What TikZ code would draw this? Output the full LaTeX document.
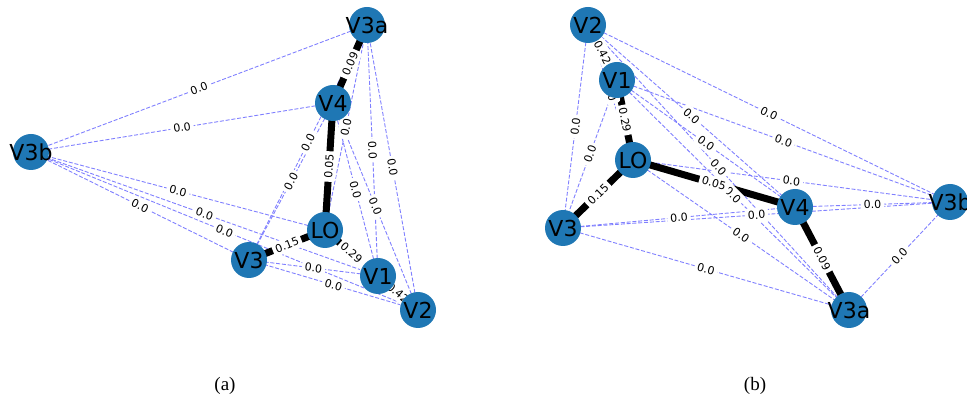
\documentclass[tikz,border=0pt]{standalone}
\usepackage{fontspec}
\setmainfont{Liberation Serif}
\newfontfamily\graphfont{DejaVu Sans}
\pgfdeclarelayer{edgelayer}
\pgfdeclarelayer{labellayer}
\pgfsetlayers{edgelayer,labellayer,main}
\definecolor{nodeblue}{HTML}{1F77B4}
\definecolor{weakedge}{HTML}{8080FF}
\tikzset{
  vert/.style={circle, fill=nodeblue, minimum size=36pt, inner sep=0pt,
    label={[font=\graphfont\fontsize{22}{22}\selectfont, text=black, inner sep=0pt]center:#1}},
  weak/.style={draw=weakedge, line width=0.9pt, dash pattern=on 4pt off 1.8pt},
  strong/.style={draw=black, line width=7pt},
  elab/.style={fill=white, rounded corners=3pt, inner xsep=3pt, inner ysep=3pt,
    font=\graphfont\fontsize{11}{11}\selectfont, sloped},
  caption/.style={font=\fontsize{19}{19}\selectfont}
}
% edge between two vertices, with its weight written at the midpoint
\newcommand\graphedge[4]{%
  \begin{pgfonlayer}{edgelayer}
    \draw[#1] (#2.center) -- (#3.center);
  \end{pgfonlayer}
  \begin{pgfonlayer}{labellayer}
    \path (#2.center) -- (#3.center) node[midway, elab] {#4};
  \end{pgfonlayer}}
\begin{document}
\begin{tikzpicture}[x=1pt, y=-1pt]
\useasboundingbox (0,0) rectangle (967,403);

% layout (a)
\node[vert=V3a] (aV3a) at (367,25) {};
\node[vert=V4]  (aV4)  at (333,103) {};
\node[vert=V3b] (aV3b) at (31,152) {};
\node[vert=LO]  (aLO)  at (325,230) {};
\node[vert=V3]  (aV3)  at (249,260) {};
\node[vert=V1]  (aV1)  at (378,276) {};
\node[vert=V2]  (aV2)  at (418,310) {};

% layout (b)
\node[vert=V2]  (bV2)  at (588,25) {};
\node[vert=V1]  (bV1)  at (617,80) {};
\node[vert=LO]  (bLO)  at (633,160) {};
\node[vert=V3]  (bV3)  at (563,228) {};
\node[vert=V4]  (bV4)  at (795,207) {};
\node[vert=V3b] (bV3b) at (950,202) {};
\node[vert=V3a] (bV3a) at (849,310) {};

\foreach \p in {a,b} {
  \foreach \u/\v in {LO/V2, LO/V3a, LO/V3b, V1/V3, V1/V3a, V1/V3b, V1/V4,
                     V2/V3, V2/V3a, V2/V3b, V2/V4, V3/V3a, V3/V3b, V3/V4,
                     V3a/V3b, V3b/V4} {
    \graphedge{weak}{\p\u}{\p\v}{0.0}
  }
  \graphedge{strong}{\p LO}{\p V1}{0.29}
  \graphedge{strong}{\p LO}{\p V3}{0.15}
  \graphedge{strong}{\p LO}{\p V4}{0.05}
  \graphedge{strong}{\p V1}{\p V2}{0.42}
  \graphedge{strong}{\p V3a}{\p V4}{0.09}
}

\node[caption] (capa) at (225,386) {(a)};
\node[caption] (capb) at (755,386) {(b)};
\end{tikzpicture}
\end{document}
